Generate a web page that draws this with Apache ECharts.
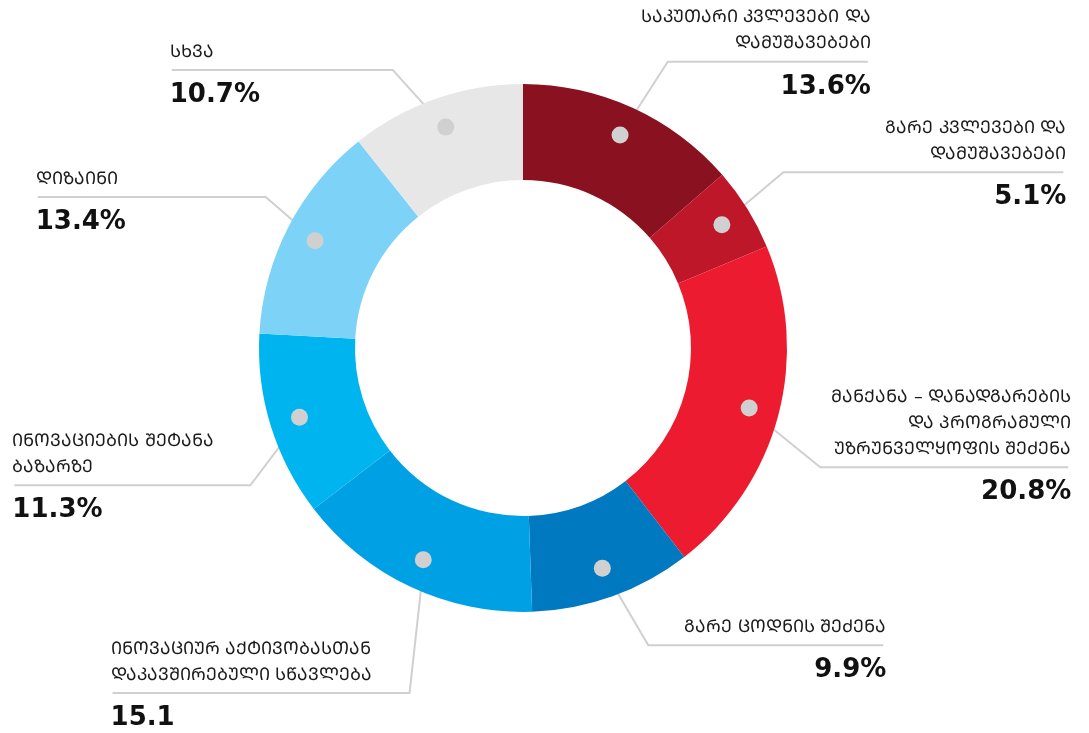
<!DOCTYPE html>
<html>
<head>
<meta charset="utf-8">
<script src="https://cdn.jsdelivr.net/npm/echarts@6/dist/echarts.min.js"></script>
<style>
  html, body { margin: 0; padding: 0; background: #fff; }
  #chart { width: 1089px; height: 733px; }
</style>
</head>
<body>
<div id="chart"></div>
<script>
// categories, clockwise from 12 o'clock
const categories = [
  'საკუთარი კვლევები და\nდამუშავებები',
  'გარე კვლევები და\nდამუშავებები',
  'მანქანა – დანადგარების\nდა პროგრამული\nუზრუნველყოფის შეძენა',
  'გარე ცოდნის შეძენა',
  'ინოვაციურ აქტივობასთან\nდაკავშირებული სწავლება',
  'ინოვაციების შეტანა\nბაზარზე',
  'დიზაინი',
  'სხვა'
];
const shares = [13.6, 5.1, 20.8, 9.9, 15.1, 11.3, 13.4, 10.7];
const shareLabels = ['13.6%', '5.1%', '20.8%', '9.9%', '15.1', '11.3%', '13.4%', '10.7%'];

const colors = ['#8a1220', '#bd1729', '#ed1b2f', '#0079c1', '#00a1e4', '#00b5ef', '#7dd2f7', '#e7e7e7'];
// leader line: bend offset from the dot, then shelf length
const leaderBend = [[49, -76], [64, -54], [74, 60], [47, 80], [-15, 136], [-52, 69], [-52, -45], [-54, -60]];
const shelfLength = [200, 280, 248, 235, 297, 236, 228, 221];

// Georgian headings are set in Mtavruli (capital) letters
const caps = s => s.replace(/[\u10D0-\u10FA]/g, c => String.fromCharCode(c.charCodeAt(0) + 0x1C90 - 0x10D0));

const total = shares.reduce((a, b) => a + b, 0);
const sideOf = i => {
  let before = 0;
  for (let j = 0; j < i; j++) before += shares[j];
  return (before + shares[i] / 2) / total < 0.5 ? 'R' : 'L';
};

const NAME_LH = 26;
const CENTER = [523, 348];

const chart = echarts.init(document.getElementById('chart'), null, { renderer: 'canvas' });

const pieData = categories.map((name, i) => ({
  name: name,
  value: shares[i],
  itemStyle: { color: colors[i] }
}));
const ghostData = categories.map((name, i) => ({
  name: name,
  value: shares[i],
  itemStyle: { color: 'rgba(0,0,0,0)' }
}));

chart.setOption({
  backgroundColor: '#fff',
  animation: false,
  series: [
    {
      type: 'pie',
      center: CENTER,
      radius: [168, 264],
      startAngle: 90,
      clockwise: true,
      silent: true,
      label: { show: false },
      labelLine: { show: false },
      emphasis: { disabled: true },
      data: pieData
    },
    {
      // text labels, leader starts on the dot ring
      type: 'pie',
      center: CENTER,
      radius: [0, 231],
      startAngle: 90,
      clockwise: true,
      silent: true,
      emphasis: { disabled: true },
      data: ghostData,
      label: {
        show: true,
        position: 'outside',
        distanceToLabelLine: 0,
        formatter: function (p) {
          const side = sideOf(p.dataIndex);
          const lines = caps(categories[p.dataIndex]).split('\n').map(t => '{n' + side + '|' + t + '}');
          return lines.join('\n') + '\n{p' + side + '|' + shareLabels[p.dataIndex] + '}';
        },
        rich: {
          nR: { fontFamily: 'DejaVu Sans', fontSize: 17.5, lineHeight: NAME_LH, color: '#1a1a1a', align: 'right' },
          nL: { fontFamily: 'DejaVu Sans', fontSize: 17.5, lineHeight: NAME_LH, color: '#1a1a1a', align: 'left' },
          pR: { fontFamily: 'DejaVu Sans', fontSize: 26, fontWeight: 'bold', lineHeight: 60, color: '#111', align: 'right' },
          pL: { fontFamily: 'DejaVu Sans', fontSize: 26, fontWeight: 'bold', lineHeight: 60, color: '#111', align: 'left' }
        }
      },
      labelLine: {
        show: true,
        length: 20,
        length2: 10,
        lineStyle: { color: '#d0d0d0', width: 2 }
      },
      labelLayout: function (params) {
        const pts = params.labelLinePoints;
        if (!pts) return {};
        const i = params.dataIndex;
        const s = pts[0];
        const right = pts[1][0] >= pts[0][0];
        const e = [s[0] + leaderBend[i][0], s[1] + leaderBend[i][1]];
        const f = [e[0] + (right ? 1 : -1) * shelfLength[i], e[1]];
        const k = categories[i].split('\n').length;
        return {
          x: f[0] + (right ? 3 : -2),
          y: e[1] - k * NAME_LH - 5,
          align: right ? 'right' : 'left',
          verticalAlign: 'top',
          labelLinePoints: [s, e, f]
        };
      }
    },
    {
      // grey dots
      type: 'pie',
      center: CENTER,
      radius: [224, 238],
      startAngle: 90,
      clockwise: true,
      silent: true,
      emphasis: { disabled: true },
      data: ghostData,
      label: {
        show: true,
        position: 'inside',
        formatter: '{d|}',
        rich: {
          d: { width: 17, height: 17, borderRadius: 8.5, backgroundColor: '#d0d0d0' }
        }
      },
      labelLine: { show: false }
    }
  ]
});
</script>
</body>
</html>
